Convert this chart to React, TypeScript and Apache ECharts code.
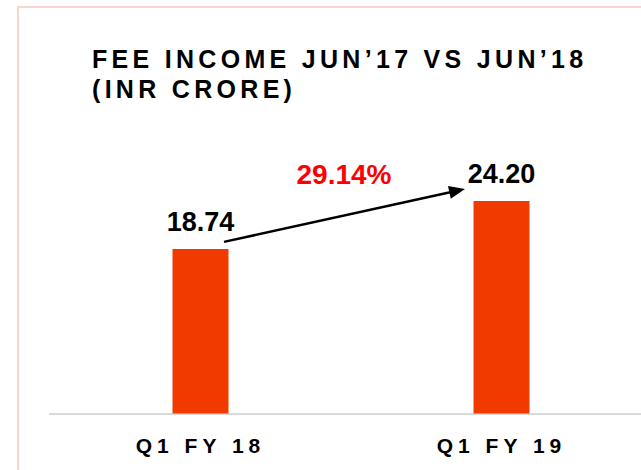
import React, { useEffect, useRef } from 'react';
import * as echarts from 'echarts';

const categories = ['Q1 FY 18', 'Q1 FY 19'];
const feeIncome = [18.74, 24.2];
const titleLines = ['FEE INCOME JUN’17 VS JUN’18', '(INR CRORE)'];

const FONT = 'Liberation Sans';

export default function App() {
  const ref = useRef<HTMLDivElement>(null);
  useEffect(() => {
    const chart = echarts.init(ref.current!, null, { renderer: 'svg', width: 720, height: 470 });
    const growth = ((feeIncome[1] / feeIncome[0] - 1) * 100).toFixed(2) + '%';
    chart.setOption({
      animation: false,
      backgroundColor: '#ffffff',
      title: {
        text: titleLines.join('\n'),
        left: 92,
        top: 44,
        padding: 0,
        textStyle: { fontSize: 25, fontWeight: 'bold', fontFamily: FONT, lineHeight: 30, color: '#000000' },
      },
      grid: { left: 50, top: 150, width: 602, height: 263.5 },
      xAxis: {
        type: 'category',
        data: categories,
        axisTick: { show: false },
        axisLine: { show: true, lineStyle: { color: '#d9d9d9', width: 2 } },
        axisLabel: { margin: 21, fontSize: 21, fontWeight: 'bold', fontFamily: FONT, color: '#000000' },
      },
      yAxis: { type: 'value', min: 0, max: 30, show: false, splitLine: { show: false } },
      series: [
        {
          type: 'bar',
          data: feeIncome,
          barWidth: 56,
          itemStyle: { color: '#f03a00' },
          label: {
            show: true,
            position: 'top',
            distance: 13,
            fontSize: 27,
            fontWeight: 'bold',
            fontFamily: FONT,
            color: '#000000',
            formatter: (p: any) => Number(p.value).toFixed(2),
          },
        },
      ],
    });
    const p0 = chart.convertToPixel({ seriesIndex: 0 }, [0, feeIncome[0]]) as number[];
    const p1 = chart.convertToPixel({ seriesIndex: 0 }, [1, feeIncome[1]]) as number[];
    const start = [p0[0] + 23.5, p0[1] - 7];
    const tip = [p1[0] - 36.5, p1[1] - 12];
    const dx = tip[0] - start[0];
    const dy = tip[1] - start[1];
    const len = Math.sqrt(dx * dx + dy * dy);
    const ux = dx / len, uy = dy / len;
    const nx = -uy, ny = ux;
    const headLen = 16, headHalf = 6.5;
    const base = [tip[0] - headLen * ux, tip[1] - headLen * uy];
    chart.setOption({
      graphic: [
        {
          type: 'rect',
          z: -10,
          shape: { x: 18, y: 7, width: 760, height: 500 },
          style: { fill: 'none', stroke: '#fcd5ca', lineWidth: 2 },
        },
        {
          type: 'line',
          shape: { x1: start[0], y1: start[1], x2: base[0] + 2 * ux, y2: base[1] + 2 * uy },
          style: { stroke: '#000000', lineWidth: 2.5 },
        },
        {
          type: 'polygon',
          shape: {
            points: [
              tip,
              [base[0] + headHalf * nx, base[1] + headHalf * ny],
              [base[0] - headHalf * nx, base[1] - headHalf * ny],
            ],
          },
          style: { fill: '#000000' },
        },
        {
          type: 'text',
          x: (p0[0] + p1[0]) / 2 - 7,
          y: p1[1] - 26,
          style: {
            text: growth,
            fontSize: 28,
            fontWeight: 'bold',
            fontFamily: FONT,
            fill: '#ff0000',
            align: 'center',
            verticalAlign: 'middle',
          },
        },
      ],
    });
    return () => chart.dispose();
  }, []);
  return (
    <>
      <style>{`
        #chartbox svg text[style*="25px"] { letter-spacing: 4.3px; }
        #chartbox svg text[style*="21px"] { letter-spacing: 5px; }
      `}</style>
      <div style={{ position: 'fixed', left: 0, top: 0, width: 641, height: 470, overflow: 'hidden' }}>
        <div id="chartbox" ref={ref} style={{ width: 720, height: 470 }} />
      </div>
    </>
  );
}
